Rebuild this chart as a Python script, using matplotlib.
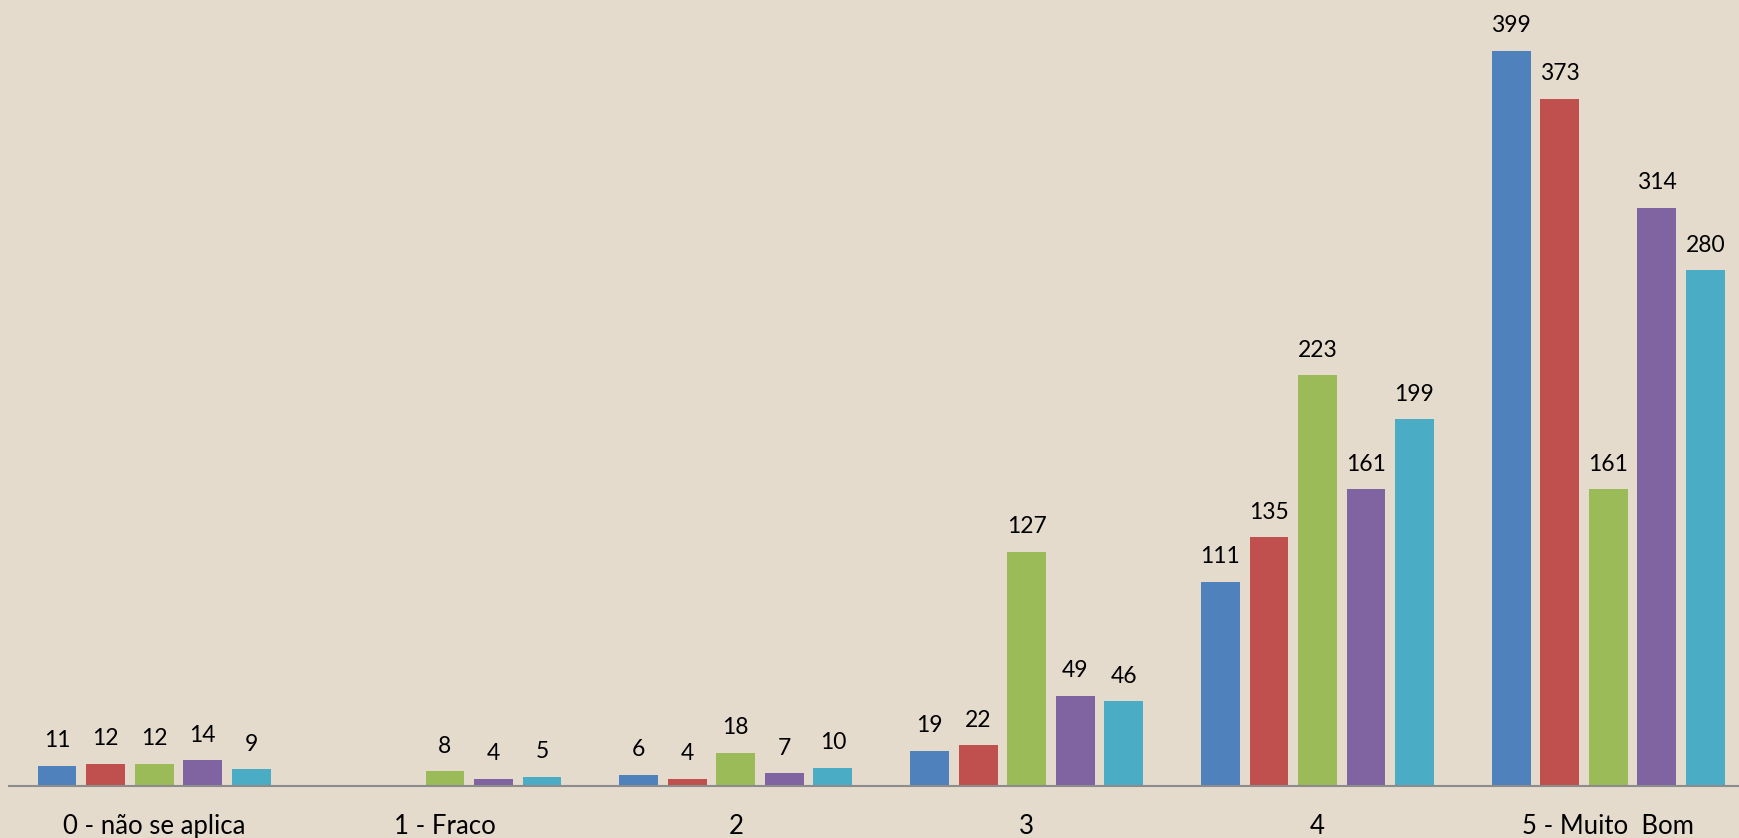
import numpy as np
import matplotlib.pyplot as plt

# categories and series values
categories = ['0 - não se aplica', '1 - Fraco', '2', '3', '4', '5 - Muito  Bom']
serie_azul = [11, 0, 6, 19, 111, 399]
serie_vermelha = [12, 0, 4, 22, 135, 373]
serie_verde = [12, 8, 18, 127, 223, 161]
serie_roxa = [14, 4, 7, 49, 161, 314]
serie_ciano = [9, 5, 10, 46, 199, 280]

series = [serie_azul, serie_vermelha, serie_verde, serie_roxa, serie_ciano]
colors = ['#4F81BD', '#C0504D', '#9BBB59', '#8064A2', '#4BACC6']

plt.rcParams['font.family'] = ['Lato', 'DejaVu Sans']

fig = plt.figure(figsize=(17.39, 8.38), dpi=100)
bg = '#E4DBCD'
fig.patch.set_facecolor(bg)
# plot area runs slightly past the right edge, like the original
ax = fig.add_axes([8.7 / 1739, 52 / 838, 1745 / 1739, 1 - 52 / 838])
ax.set_facecolor(bg)

x = np.arange(len(categories))
step = 0.1668
width = 0.1334
for i, (vals, c) in enumerate(zip(series, colors)):
    pos = x + (i - 2) * step
    bars = ax.bar(pos, vals, width, color=c, zorder=2)
    for b, v in zip(bars, vals):
        if v > 0:
            ax.annotate(str(v), (b.get_x() + b.get_width() / 2, v),
                        xytext=(0, 10.5), textcoords='offset points',
                        ha='center', va='bottom', fontsize=16.5, color='black')

ax.set_xlim(-0.5, 5.5)
ax.set_ylim(0, 426.7)
ax.set_yticks([])
ax.set_xticks(x)
ax.set_xticklabels(categories, fontsize=18.5)
ax.tick_params(axis='x', length=0, pad=20)
for s in ['top', 'right', 'left']:
    ax.spines[s].set_visible(False)
ax.spines['bottom'].set_color('#8C8C8C')
ax.spines['bottom'].set_linewidth(1.5)

fig.savefig('out.png', dpi=100, facecolor=bg)
